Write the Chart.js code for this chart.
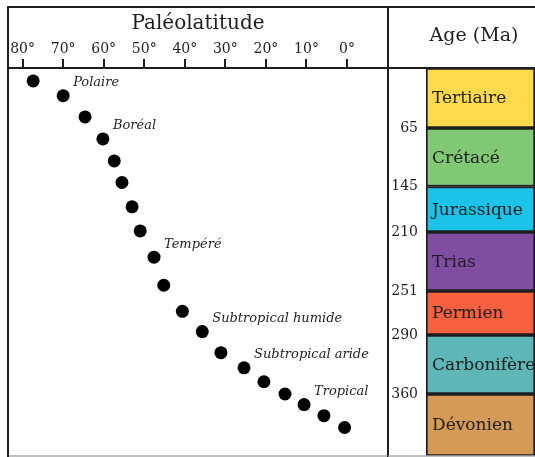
<!DOCTYPE html>
<html>
<head>
<meta charset="utf-8">
<script src="https://cdn.jsdelivr.net/npm/chart.js@4"></script>
<style>
  body { margin: 0; background: #fff; }
  #left { position: absolute; left: 0; top: 0; width: 389px; height: 457px; }
  #right { position: absolute; left: 388px; top: 0; width: 147px; height: 457px; }
</style>
</head>
<body>
<div id="left"><canvas id="ctx"></canvas></div>
<div id="right"><canvas id="ctx2"></canvas></div>
<script>
// paleolatitude (deg) and age (Ma) of each dot, top to bottom
const latitude = [77.4, 70, 64.6, 60.2, 57.4, 55.5, 53, 51, 47.6, 45.2, 40.6, 35.7, 31.1, 25.4, 20.5, 15.3, 10.6, 5.7, 0.6];
const ageMa = [14, 30, 53, 80, 110, 139.5, 174, 208.5, 227.5, 247, 269, 287, 311, 329, 345.5, 360, 368.5, 377.5, 387];
const latTicks = [80, 70, 60, 50, 40, 30, 20, 10, 0];

const periods = ["Tertiaire", "Crétacé", "Jurassique", "Trias", "Permien", "Carbonifère", "Dévonien"];
const periodStart = [0, 65, 145, 210, 251, 290, 360];
const periodEnd = [65, 145, 210, 251, 290, 360, 410];
const ageTicks = [65, 145, 210, 251, 290, 360];

const zones = ["Polaire", "Boréal", "Tempéré", "Subtropical humide", "Subtropical aride", "Tropical"];
const zonePoint = [1, 3, 8, 11, 13, 16];

// drawn height of each period band (the time axis is not to scale)
const bandWeights = [60, 58.5, 45.5, 59, 44, 59, 62];
const periodColors = ["#fdd94b", "#80c874", "#1cc3e9", "#7f4ea3", "#f8613f", "#5eb6b6", "#d49a56"];
const ink = "#1e1e1e";
const serif = "'DejaVu Serif', serif";

// piecewise linear time scale: each period gets its band height
class PeriodScale extends Chart.LinearScale {
  getPixelForValue(value) {
    const total = bandWeights.reduce((s, w) => s + w, 0);
    let acc = 0;
    for (let i = 0; i < bandWeights.length; i++) {
      if (value <= periodEnd[i] || i === bandWeights.length - 1) {
        acc += (value - periodStart[i]) / (periodEnd[i] - periodStart[i]) * bandWeights[i];
        break;
      }
      acc += bandWeights[i];
    }
    return this.top + acc / total * this.height;
  }
  getValueForPixel(pixel) {
    const total = bandWeights.reduce((s, w) => s + w, 0);
    let pos = (pixel - this.top) / this.height * total;
    for (let i = 0; i < bandWeights.length; i++) {
      if (pos <= bandWeights[i] || i === bandWeights.length - 1) {
        return periodStart[i] + pos / bandWeights[i] * (periodEnd[i] - periodStart[i]);
      }
      pos -= bandWeights[i];
    }
  }
}
PeriodScale.id = "period";
PeriodScale.defaults = Chart.LinearScale.defaults;
Chart.register(PeriodScale);

// no extra room for edge labels, the frame is fixed
function noPadding(s) {
  s.paddingLeft = 0;
  s.paddingRight = 0;
  s.paddingTop = 0;
  s.paddingBottom = 0;
}

const leftFrame = {
  id: "leftFrame",
  afterDraw(chart) {
    const c = chart.ctx;
    const a = chart.chartArea;
    c.save();
    c.strokeStyle = "#aaa";
    c.lineWidth = 1.5;
    c.beginPath();
    c.moveTo(a.left, 456);
    c.lineTo(chart.width, 456);
    c.stroke();
    c.strokeStyle = ink;
    c.lineWidth = 2;
    c.beginPath();
    c.moveTo(a.left, 457);
    c.lineTo(a.left, 7);
    c.lineTo(chart.width, 7);
    c.moveTo(a.left, a.top);
    c.lineTo(chart.width, a.top);
    c.moveTo(a.right, 7);
    c.lineTo(a.right, 457);
    c.stroke();
    c.restore();
  },
  afterDatasetsDraw(chart) {
    const c = chart.ctx;
    const meta = chart.getDatasetMeta(0);
    c.save();
    c.fillStyle = ink;
    c.font = "italic 13px " + serif;
    c.textBaseline = "middle";
    for (let i = 0; i < zones.length; i++) {
      const pt = meta.data[zonePoint[i]];
      c.fillText(zones[i], pt.x + 10, pt.y - 13);
    }
    c.restore();
  },
};

const rightFrame = {
  id: "rightFrame",
  afterDraw(chart) {
    const c = chart.ctx;
    const a = chart.chartArea;
    c.save();
    c.strokeStyle = "#aaa";
    c.lineWidth = 1.5;
    c.beginPath();
    c.moveTo(0, 456);
    c.lineTo(chart.width, 456);
    c.stroke();
    c.strokeStyle = ink;
    c.lineWidth = 2;
    c.beginPath();
    c.moveTo(0, 7);
    c.lineTo(chart.width, 7);
    c.moveTo(0, a.top);
    c.lineTo(chart.width, a.top);
    c.stroke();
    c.fillStyle = ink;
    c.font = "19px " + serif;
    c.textAlign = "center";
    c.textBaseline = "middle";
    c.fillText("Age (Ma)", 86, 36);
    c.font = "17px " + serif;
    c.textAlign = "left";
    for (let i = 0; i < periods.length; i++) {
      const el = chart.getDatasetMeta(i).data[0];
      c.fillText(periods[i], a.left + 6, (el.y + el.base) / 2 + 1);
    }
    c.restore();
  },
};

new Chart(document.getElementById("ctx"), {
  type: "scatter",
  data: {
    datasets: [
      {
        data: latitude.map((v, i) => ({ x: v, y: ageMa[i] })),
        backgroundColor: "#000",
        borderWidth: 0,
        pointRadius: 6.5,
      },
    ],
  },
  options: {
    responsive: true,
    maintainAspectRatio: false,
    animation: false,
    layout: { autoPadding: false, padding: { left: 8, top: 7, right: 1, bottom: 1 } },
    plugins: { legend: { display: false }, tooltip: { enabled: false } },
    scales: {
      x: {
        type: "linear",
        position: "top",
        min: -10.1,
        max: 83.6,
        reverse: true,
        afterBuildTicks: (s) => { s.ticks = latTicks.map((v) => ({ value: v })); },
        afterFit: (s) => { s.height = 61; noPadding(s); },
        ticks: {
          callback: (v) => v + "°",
          color: ink,
          font: { family: serif, size: 14 },
          padding: 1,
          maxRotation: 0,
        },
        grid: {
          drawOnChartArea: false,
          drawTicks: true,
          tickLength: 9,
          color: ink,
          tickColor: ink,
          lineWidth: 2,
          tickWidth: 2,
        },
        border: { display: false },
        title: {
          display: true,
          text: "Paléolatitude",
          color: ink,
          font: { family: serif, size: 20 },
          padding: { top: 5, bottom: 0 },
        },
      },
      y: { type: "period", min: 0, max: 410, display: false, afterFit: noPadding },
    },
  },
  plugins: [leftFrame],
});

new Chart(document.getElementById("ctx2"), {
  type: "bar",
  data: {
    labels: [""],
    datasets: periods.map((p, i) => ({
      label: p,
      data: [[periodStart[i], periodEnd[i]]],
      backgroundColor: periodColors[i],
      borderColor: ink,
      borderWidth: 2,
      borderSkipped: false,
      grouped: false,
      barPercentage: 1,
      categoryPercentage: 1,
    })),
  },
  options: {
    responsive: true,
    maintainAspectRatio: false,
    animation: false,
    layout: { padding: { left: 0, top: 68, right: -4, bottom: 1 } },
    plugins: { legend: { display: false }, tooltip: { enabled: false } },
    scales: {
      x: { display: false, afterFit: noPadding },
      y: {
        type: "period",
        min: 0,
        max: 410,
        afterBuildTicks: (s) => { s.ticks = ageTicks.map((v) => ({ value: v })); },
        afterFit: (s) => { s.width = 38; noPadding(s); },
        ticks: { color: ink, font: { family: serif, size: 14 }, padding: 8 },
        grid: { display: false, drawTicks: false },
        border: { display: false },
      },
    },
  },
  plugins: [rightFrame],
});
</script>
</body>
</html>
